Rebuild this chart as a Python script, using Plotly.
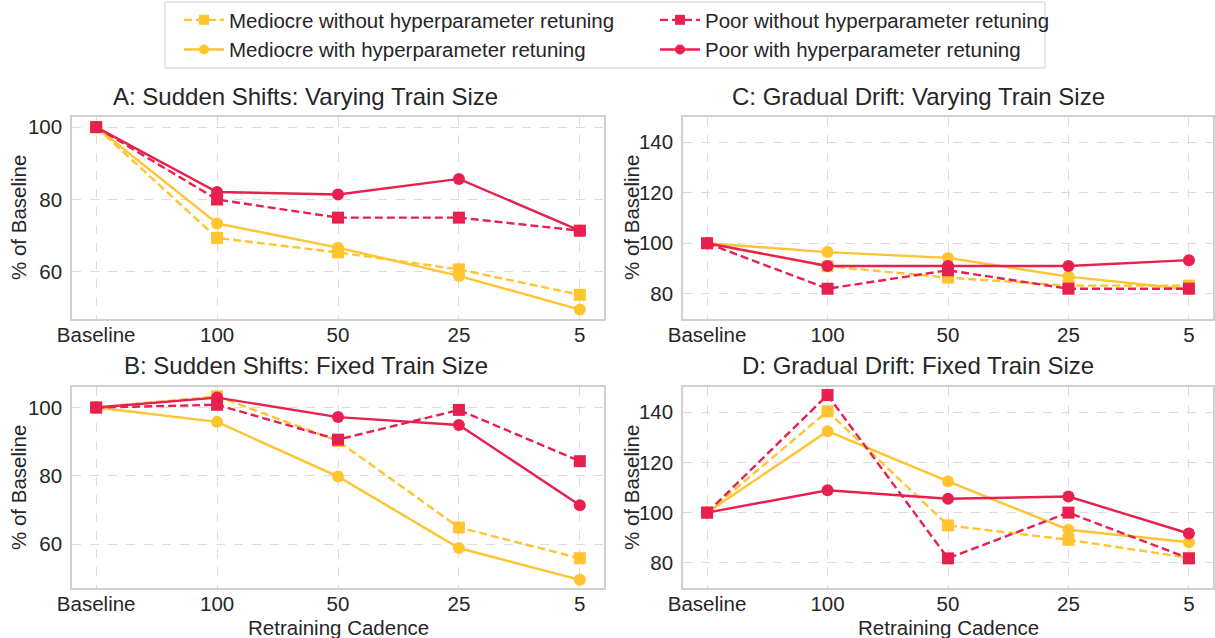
import plotly.graph_objects as go

cadence = ["Baseline", "100", "50", "25", "5"]

# Panel A: Sudden Shifts, Varying Train Size
a_med_without = [100, 69.4, 65.4, 60.7, 53.7]
a_med_with = [100, 73.4, 66.7, 58.9, 49.6]
a_poor_without = [100, 80.0, 75.0, 75.0, 71.4]
a_poor_with = [100, 82.1, 81.4, 85.7, 71.4]

# Panel B: Sudden Shifts, Fixed Train Size
b_med_without = [100, 103.3, 90.2, 64.9, 55.9]
b_med_with = [100, 95.8, 79.8, 58.9, 49.6]
b_poor_without = [100, 100.8, 90.6, 99.3, 84.3]
b_poor_with = [100, 102.9, 97.2, 94.9, 71.4]

# Panel C: Gradual Drift, Varying Train Size
c_med_without = [100, 90.9, 86.4, 83.2, 83.2]
c_med_with = [100, 96.5, 94.2, 86.8, 81.8]
c_poor_without = [100, 82.0, 89.3, 82.0, 82.0]
c_poor_with = [100, 91.0, 91.0, 91.0, 93.3]

# Panel D: Gradual Drift, Fixed Train Size
d_med_without = [100, 140.3, 94.9, 89.2, 82.0]
d_med_with = [100, 132.4, 112.4, 93.2, 88.2]
d_poor_without = [100, 146.8, 81.8, 100.0, 81.8]
d_poor_with = [100, 108.9, 105.5, 106.4, 91.7]

series_names = [
    "Mediocre without hyperparameter retuning",
    "Poor without hyperparameter retuning",
    "Mediocre with hyperparameter retuning",
    "Poor with hyperparameter retuning",
]
panel_titles = [
    "A: Sudden Shifts: Varying Train Size",
    "C: Gradual Drift: Varying Train Size",
    "B: Sudden Shifts: Fixed Train Size",
    "D: Gradual Drift: Fixed Train Size",
]

YELLOW = "#FFC42F"
RED = "#E8204F"
TXT = "#262626"
FONT = "Liberation Sans, Arial, sans-serif"
FS = 20.5
DASH = "8px,4px"

W, H = 1215, 638

panels = [
    ("", [a_med_without, a_poor_without, a_med_with, a_poor_with]),
    ("2", [c_med_without, c_poor_without, c_med_with, c_poor_with]),
    ("3", [b_med_without, b_poor_without, b_med_with, b_poor_with]),
    ("4", [d_med_without, d_poor_without, d_med_with, d_poor_with]),
]
y_ranges = [[47.0, 102.8], [70, 150], [47.2, 106.0], [70, 150]]
styles = [
    dict(color=YELLOW, dash=DASH, symbol="square", legend="legend"),
    dict(color=RED, dash=DASH, symbol="square", legend="legend2"),
    dict(color=YELLOW, dash="solid", symbol="circle", legend="legend"),
    dict(color=RED, dash="solid", symbol="circle", legend="legend2"),
]
draw_order = [0, 2, 1, 3]

fig = go.Figure()
for suf, data in panels:
    for si in draw_order:
        st = styles[si]
        fig.add_trace(go.Scatter(
            x=cadence, y=data[si], mode="lines+markers",
            name=series_names[si], showlegend=False, hoverinfo="skip",
            line=dict(color=st["color"], width=2.4, dash=st["dash"]),
            marker=dict(color=st["color"], symbol=st["symbol"], size=12,
                        line=dict(width=0)),
            xaxis="x" + suf, yaxis="y" + suf,
        ))

for si in range(4):
    st = styles[si]
    fig.add_trace(go.Scatter(
        x=[None], y=[None], mode="lines+markers", name=series_names[si],
        line=dict(color=st["color"], width=2.4, dash=st["dash"]),
        marker=dict(color=st["color"], symbol=st["symbol"], size=10),
        showlegend=True, legend=st["legend"], xaxis="x", yaxis="y",
    ))

xdom_l = [72 / W, 604 / W]
xdom_r = [683 / W, 1213 / W]
ydom_t = [1 - 319 / H, 1 - 117 / H]
ydom_b = [1 - 588 / H, 1 - 387 / H]

def xax(dom, anchor):
    return dict(domain=dom, anchor=anchor, type="category", range=[-0.2, 4.2],
                showgrid=True, gridcolor="#dcdcdc", griddash="dash", gridwidth=1,
                showline=True, linecolor="#d0d0d0", linewidth=1.5, mirror=True,
                zeroline=False, ticks="", ticklabelstandoff=-3, automargin=False,
                tickfont=dict(size=FS, color=TXT, family=FONT))

def yax(dom, anchor, rng):
    return dict(domain=dom, anchor=anchor, range=rng, dtick=20, tick0=0,
                showgrid=True, gridcolor="#dcdcdc", griddash="dash", gridwidth=1,
                showline=True, linecolor="#d0d0d0", linewidth=1.5, mirror=True,
                zeroline=False, ticks="", ticklabelstandoff=4, automargin=False,
                tickfont=dict(size=FS, color=TXT, family=FONT))

annotations = []
title_pos = [(306, 97), (918, 97), (306, 365), (918, 365)]
for t, (px, py) in zip(panel_titles, title_pos):
    annotations.append(dict(text=t, x=px / W, y=1 - py / H, xref="paper", yref="paper",
                            showarrow=False, xanchor="center", yanchor="middle",
                            font=dict(size=24, color=TXT, family=FONT)))
for (px, py) in [(18, 218), (631, 218), (18, 488), (631, 488)]:
    annotations.append(dict(text="% of Baseline", x=px / W, y=1 - py / H, xref="paper",
                            yref="paper", showarrow=False, textangle=-90,
                            xanchor="center", yanchor="middle",
                            font=dict(size=FS, color=TXT, family=FONT)))
for px in [338, 948]:
    annotations.append(dict(text="Retraining Cadence", x=px / W, y=1 - 627 / H, xref="paper",
                            yref="paper", showarrow=False, xanchor="center", yanchor="middle",
                            font=dict(size=FS, color=TXT, family=FONT)))

legend_common = dict(orientation="v", yanchor="top", xanchor="left",
                     bgcolor="rgba(0,0,0,0)", borderwidth=0,
                     font=dict(size=FS, color=TXT, family=FONT), itemwidth=40,
                     tracegroupgap=0)

fig.update_layout(
    width=W, height=H,
    margin=dict(l=0, r=0, t=0, b=0, autoexpand=False),
    paper_bgcolor="white", plot_bgcolor="white",
    font=dict(family=FONT, color=TXT),
    xaxis=xax(xdom_l, "y"), yaxis=yax(ydom_t, "x", y_ranges[0]),
    xaxis2=xax(xdom_r, "y2"), yaxis2=yax(ydom_t, "x2", y_ranges[1]),
    xaxis3=xax(xdom_l, "y3"), yaxis3=yax(ydom_b, "x3", y_ranges[2]),
    xaxis4=xax(xdom_r, "y4"), yaxis4=yax(ydom_b, "x4", y_ranges[3]),
    annotations=annotations,
    shapes=[dict(type="rect", xref="paper", yref="paper",
                 x0=165 / W, x1=1045 / W, y0=1 - 68 / H, y1=1 - 2 / H,
                 fillcolor="white", line=dict(color="#cfcfcf", width=1), layer="below")],
    legend=dict(x=179 / W, y=1.0, **legend_common),
    legend2=dict(x=655 / W, y=1.0, **legend_common),
    showlegend=True,
)

fig.write_html("out.html", config={"displayModeBar": False},
               post_script="document.body.style.margin='0px';")
